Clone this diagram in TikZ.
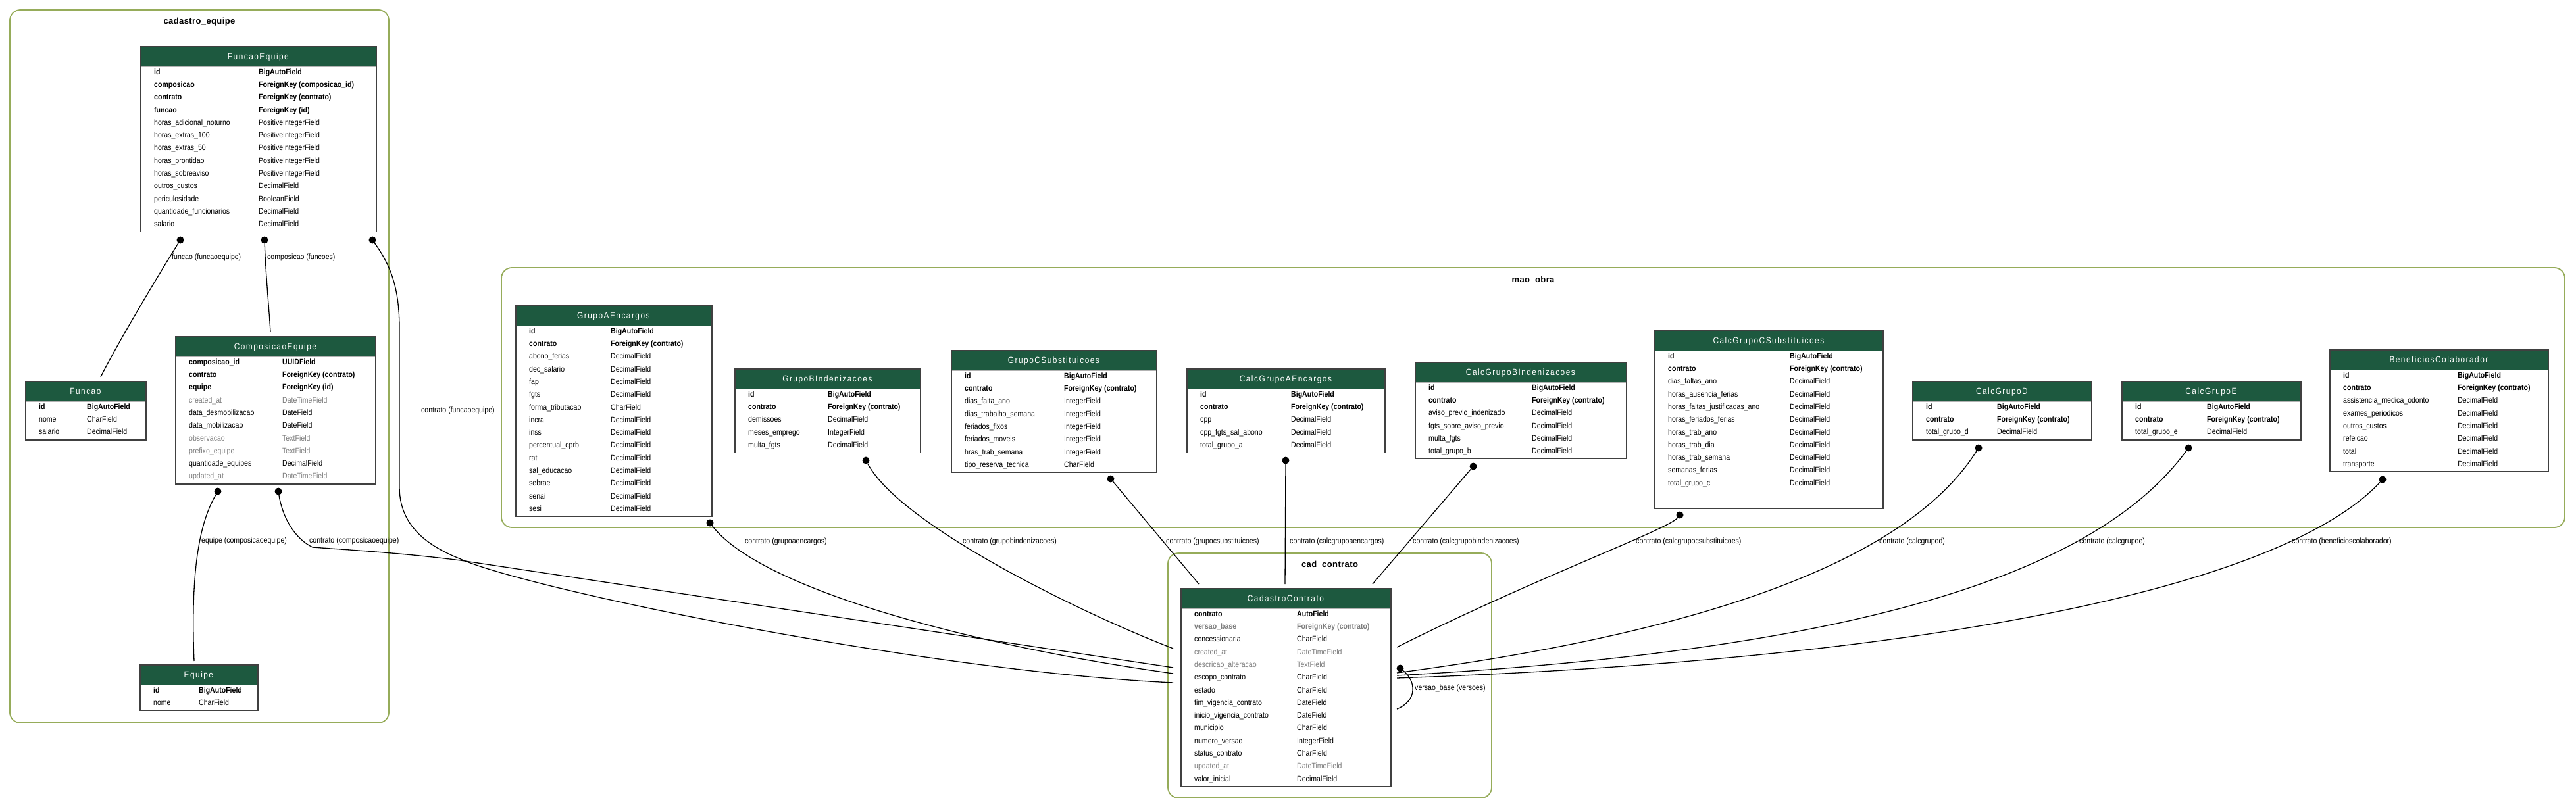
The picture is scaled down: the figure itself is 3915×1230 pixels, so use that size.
\documentclass[tikz,border=0pt]{standalone}
\usepackage{fontspec}
\setmainfont[FakeStretch=0.88]{Liberation Sans}
\newfontfamily\titlefont[FakeStretch=0.88,LetterSpace=11]{Liberation Sans}
\newfontfamily\clusterfont[LetterSpace=3]{Liberation Sans}
\usetikzlibrary{positioning}

\definecolor{headgreen}{RGB}{29,89,63}
\definecolor{clustergreen}{RGB}{150,172,90}
\definecolor{nullgray}{RGB}{125,125,125}

\tikzset{
  tblframe/.style={draw=black!75, line width=1.6pt, inner sep=0pt},
  tblhead/.style={fill=headgreen, draw=black!30, line width=0.8pt, text=white,
    font=\titlefont\fontsize{13.5}{15}\selectfont, inner sep=0pt,
    minimum height=31pt, text height=9.6pt, text depth=0pt},
  field/.style={font=\fontsize{12}{14}\selectfont, inner sep=0pt, anchor=base west},
  pk/.style={font=\fontsize{12}{14}\selectfont\bfseries},
  nn/.style={},
  op/.style={text=nullgray},
  opk/.style={font=\fontsize{12}{14}\selectfont\bfseries, text=nullgray},
  cluster/.style={draw=clustergreen, line width=1.8pt, rounded corners=16pt},
  clabel/.style={font=\clusterfont\bfseries\fontsize{13}{15}\selectfont, anchor=base, inner sep=0pt},
  rel/.style={line width=1.3pt},
  reldot/.style={circle, fill=black, inner sep=0pt, minimum size=11pt},
  rellabel/.style={font=\fontsize{12}{14}\selectfont, anchor=west, inner sep=0pt,
    text height=8.6pt, text depth=0pt}
}

% one django model as a table: name, left, top, width, rows, type column, title, fields
\newcommand{\modeltable}[8]{%
  \node[tblhead, minimum width=#4pt, anchor=north west] (#1-head) at (#2,#3) {#7};
  \foreach \fname/\ftype/\fkind [count=\i] in {#8} {
    \node[field, \fkind] (#1-name\i) at ({#2+21},{#3+43.2+19.3*(\i-1)}) {\fname};
    \node[field, \fkind] (#1-type\i) at ({#2+#6},{#3+43.2+19.3*(\i-1)}) {\ftype};
  }
  \node[tblframe, minimum width=#4pt, minimum height={31pt+19.3pt*#5},
    anchor=north west] (#1) at (#2,#3) {};
}

\begin{document}
\begin{tikzpicture}[x=1pt, y=-1pt]
  \fill[white] (0,0) rectangle (3915,1230);
  \useasboundingbox (0,0) rectangle (3915,1230);
  % clusters
  \draw[cluster] (15,15) rectangle (591,1099);
  \node[clabel] (lbl-equipe) at (303,36.5) {cadastro\_equipe};
  \draw[cluster] (762,407) rectangle (3898,802);
  \node[clabel] (lbl-maoobra) at (2330,429) {mao\_obra};
  \draw[cluster] (1775,841) rectangle (2267,1213);
  \node[clabel] (lbl-contrato) at (2021,862) {cad\_contrato};

  % cadastro_equipe
  \modeltable{funcaoequipe}{213}{70}{358}{13}{180}{FuncaoEquipe}{
    id/BigAutoField/pk,
    composicao/ForeignKey (composicao\_id)/pk,
    contrato/ForeignKey (contrato)/pk,
    funcao/ForeignKey (id)/pk,
    horas\_adicional\_noturno/PositiveIntegerField/nn,
    horas\_extras\_100/PositiveIntegerField/nn,
    horas\_extras\_50/PositiveIntegerField/nn,
    horas\_prontidao/PositiveIntegerField/nn,
    horas\_sobreaviso/PositiveIntegerField/nn,
    outros\_custos/DecimalField/nn,
    periculosidade/BooleanField/nn,
    quantidade\_funcionarios/DecimalField/nn,
    salario/DecimalField/nn}
  \modeltable{funcao}{38}{579}{183}{3}{94}{Funcao}{
    id/BigAutoField/pk,
    nome/CharField/nn,
    salario/DecimalField/nn}
  \modeltable{composicaoequipe}{266}{511}{304}{10}{163}{ComposicaoEquipe}{
    composicao\_id/UUIDField/pk,
    contrato/ForeignKey (contrato)/pk,
    equipe/ForeignKey (id)/pk,
    created\_at/DateTimeField/op,
    data\_desmobilizacao/DateField/nn,
    data\_mobilizacao/DateField/nn,
    observacao/TextField/op,
    prefixo\_equipe/TextField/op,
    quantidade\_equipes/DecimalField/nn,
    updated\_at/DateTimeField/op}
  \modeltable{equipe}{212}{1010}{179}{2}{90}{Equipe}{
    id/BigAutoField/pk,
    nome/CharField/nn}

  % mao_obra
  \modeltable{grupoaencargos}{783}{464}{298}{15}{145}{GrupoAEncargos}{
    id/BigAutoField/pk,
    contrato/ForeignKey (contrato)/pk,
    abono\_ferias/DecimalField/nn,
    dec\_salario/DecimalField/nn,
    fap/DecimalField/nn,
    fgts/DecimalField/nn,
    forma\_tributacao/CharField/nn,
    incra/DecimalField/nn,
    inss/DecimalField/nn,
    percentual\_cprb/DecimalField/nn,
    rat/DecimalField/nn,
    sal\_educacao/DecimalField/nn,
    sebrae/DecimalField/nn,
    senai/DecimalField/nn,
    sesi/DecimalField/nn}
  \modeltable{grupobindenizacoes}{1116}{560}{282}{5}{142}{GrupoBIndenizacoes}{
    id/BigAutoField/pk,
    contrato/ForeignKey (contrato)/pk,
    demissoes/DecimalField/nn,
    meses\_emprego/IntegerField/nn,
    multa\_fgts/DecimalField/nn}
  \modeltable{grupocsubstituicoes}{1445}{532}{312}{8}{172}{GrupoCSubstituicoes}{
    id/BigAutoField/pk,
    contrato/ForeignKey (contrato)/pk,
    dias\_falta\_ano/IntegerField/nn,
    dias\_trabalho\_semana/IntegerField/nn,
    feriados\_fixos/IntegerField/nn,
    feriados\_moveis/IntegerField/nn,
    hras\_trab\_semana/IntegerField/nn,
    tipo\_reserva\_tecnica/CharField/nn}
  \modeltable{calcgrupoaencargos}{1803}{560}{301}{5}{159}{CalcGrupoAEncargos}{
    id/BigAutoField/pk,
    contrato/ForeignKey (contrato)/pk,
    cpp/DecimalField/nn,
    cpp\_fgts\_sal\_abono/DecimalField/nn,
    total\_grupo\_a/DecimalField/nn}
  \modeltable{calcgrupobindenizacoes}{2150}{550}{321}{6}{178}{CalcGrupoBIndenizacoes}{
    id/BigAutoField/pk,
    contrato/ForeignKey (contrato)/pk,
    aviso\_previo\_indenizado/DecimalField/nn,
    fgts\_sobre\_aviso\_previo/DecimalField/nn,
    multa\_fgts/DecimalField/nn,
    total\_grupo\_b/DecimalField/nn}
  \modeltable{calcgrupocsubstituicoes}{2514}{502}{347}{12.4}{206}{CalcGrupoCSubstituicoes}{
    id/BigAutoField/pk,
    contrato/ForeignKey (contrato)/pk,
    dias\_faltas\_ano/DecimalField/nn,
    horas\_ausencia\_ferias/DecimalField/nn,
    horas\_faltas\_justificadas\_ano/DecimalField/nn,
    horas\_feriados\_ferias/DecimalField/nn,
    horas\_trab\_ano/DecimalField/nn,
    horas\_trab\_dia/DecimalField/nn,
    horas\_trab\_semana/DecimalField/nn,
    semanas\_ferias/DecimalField/nn,
    total\_grupo\_c/DecimalField/nn}
  \modeltable{calcgrupod}{2906}{579}{272}{3}{129}{CalcGrupoD}{
    id/BigAutoField/pk,
    contrato/ForeignKey (contrato)/pk,
    total\_grupo\_d/DecimalField/nn}
  \modeltable{calcgrupoe}{3224}{579}{272}{3}{130}{CalcGrupoE}{
    id/BigAutoField/pk,
    contrato/ForeignKey (contrato)/pk,
    total\_grupo\_e/DecimalField/nn}
  \modeltable{beneficioscolaborador}{3540}{531}{332}{8}{195}{BeneficiosColaborador}{
    id/BigAutoField/pk,
    contrato/ForeignKey (contrato)/pk,
    assistencia\_medica\_odonto/DecimalField/nn,
    exames\_periodicos/DecimalField/nn,
    outros\_custos/DecimalField/nn,
    refeicao/DecimalField/nn,
    total/DecimalField/nn,
    transporte/DecimalField/nn}

  % cad_contrato
  \modeltable{cadastrocontrato}{1794}{894}{319}{14}{177}{CadastroContrato}{
    contrato/AutoField/pk,
    versao\_base/ForeignKey (contrato)/opk,
    concessionaria/CharField/nn,
    created\_at/DateTimeField/op,
    descricao\_alteracao/TextField/op,
    escopo\_contrato/CharField/nn,
    estado/CharField/nn,
    fim\_vigencia\_contrato/DateField/nn,
    inicio\_vigencia\_contrato/DateField/nn,
    municipio/CharField/nn,
    numero\_versao/IntegerField/nn,
    status\_contrato/CharField/nn,
    updated\_at/DateTimeField/op,
    valor\_inicial/DecimalField/nn}

  % relation tails
  \node[reldot] (d-funcao) at (274,365) {};
  \node[reldot] (d-composicao) at (402,365) {};
  \node[reldot] (d-fecontrato) at (566,365) {};
  \node[reldot] (d-equipe) at (331,747) {};
  \node[reldot] (d-cecontrato) at (423,747) {};
  \node[reldot] (d-grupoa) at (1079,795) {};
  \node[reldot] (d-grupob) at (1316,700) {};
  \node[reldot] (d-grupoc) at (1688,728) {};
  \node[reldot] (d-calca) at (1954,700) {};
  \node[reldot] (d-calcb) at (2239,709) {};
  \node[reldot] (d-calcc) at (2553,783) {};
  \node[reldot] (d-calcd) at (3007,681) {};
  \node[reldot] (d-calce) at (3326,681) {};
  \node[reldot] (d-benef) at (3621,729) {};
  \node[reldot] (d-versao) at (2128,1016) {};

  % relation heads
  \coordinate (in-funcao) at (153,573);
  \coordinate (in-composicao) at (411,505);
  \coordinate (in-equipe) at (295,1005);
  \coordinate (cc-w1) at (1783,986);
  \coordinate (cc-w2) at (1783,1015);
  \coordinate (cc-w3) at (1783,1024);
  \coordinate (cc-w4) at (1783,1038);
  \coordinate (cc-n1) at (1822,888);
  \coordinate (cc-n2) at (1953,888);
  \coordinate (cc-n3) at (2086,888);
  \coordinate (cc-e1) at (2123,984);
  \coordinate (cc-e2) at (2123,1023);
  \coordinate (cc-e3) at (2123,1027);
  \coordinate (cc-e4) at (2123,1031);
  \coordinate (cc-e5) at (2123,1078);

  % relations
  \draw[rel] (d-funcao) .. controls (255,395) and (185,510) .. (in-funcao);
  \draw[rel] (d-composicao) .. controls (404,420) and (409,470) .. (in-composicao);
  \draw[rel] (d-fecontrato) .. controls (595,405) and (607,440) .. (607,500)
    -- (607,740) .. controls (607,800) and (650,830) .. (700,850)
    .. controls (800,895) and (1400,1020) .. (cc-w4);
  \draw[rel] (d-equipe) .. controls (300,800) and (290,880) .. (in-equipe);
  \draw[rel] (d-cecontrato) .. controls (430,790) and (450,820) .. (475,832)
    .. controls (560,838) and (620,842) .. (700,852) -- (cc-w2);
  \draw[rel] (d-grupoa) .. controls (1160,900) and (1500,985) .. (cc-w3);
  \draw[rel] (d-grupob) .. controls (1370,800) and (1650,935) .. (cc-w1);
  \draw[rel] (d-grupoc) -- (cc-n1);
  \draw[rel] (d-calca) -- (cc-n2);
  \draw[rel] (d-calcb) -- (cc-n3);
  \draw[rel] (d-calcc) .. controls (2535,805) and (2330,880) .. (cc-e1);
  \draw[rel] (d-calcd) .. controls (2900,850) and (2600,960) .. (cc-e2);
  \draw[rel] (d-calce) .. controls (3180,880) and (2800,990) .. (cc-e3);
  \draw[rel] (d-benef) .. controls (3480,880) and (3000,1000) .. (cc-e4);
  \draw[rel] (d-versao) .. controls (2152,1035) and (2155,1065) .. (cc-e5);

  % relation labels
  \node[rellabel] (l-funcao) at (261,390) {funcao (funcaoequipe)};
  \node[rellabel] (l-composicao) at (406,390) {composicao (funcoes)};
  \node[rellabel] (l-fecontrato) at (640,623) {contrato (funcaoequipe)};
  \node[rellabel] (l-equipe) at (306,821) {equipe (composicaoequipe)};
  \node[rellabel] (l-cecontrato) at (470,821) {contrato (composicaoequipe)};
  \node[rellabel] (l-grupoa) at (1132,822) {contrato (grupoaencargos)};
  \node[rellabel] (l-grupob) at (1463,822) {contrato (grupobindenizacoes)};
  \node[rellabel] (l-grupoc) at (1772,822) {contrato (grupocsubstituicoes)};
  \node[rellabel] (l-calca) at (1960,822) {contrato (calcgrupoaencargos)};
  \node[rellabel] (l-calcb) at (2147,822) {contrato (calcgrupobindenizacoes)};
  \node[rellabel] (l-calcc) at (2486,822) {contrato (calcgrupocsubstituicoes)};
  \node[rellabel] (l-calcd) at (2856,822) {contrato (calcgrupod)};
  \node[rellabel] (l-calce) at (3160,822) {contrato (calcgrupoe)};
  \node[rellabel] (l-benef) at (3483,822) {contrato (beneficioscolaborador)};
  \node[rellabel] (l-versao) at (2150,1045) {versao\_base (versoes)};
\end{tikzpicture}
\end{document}
